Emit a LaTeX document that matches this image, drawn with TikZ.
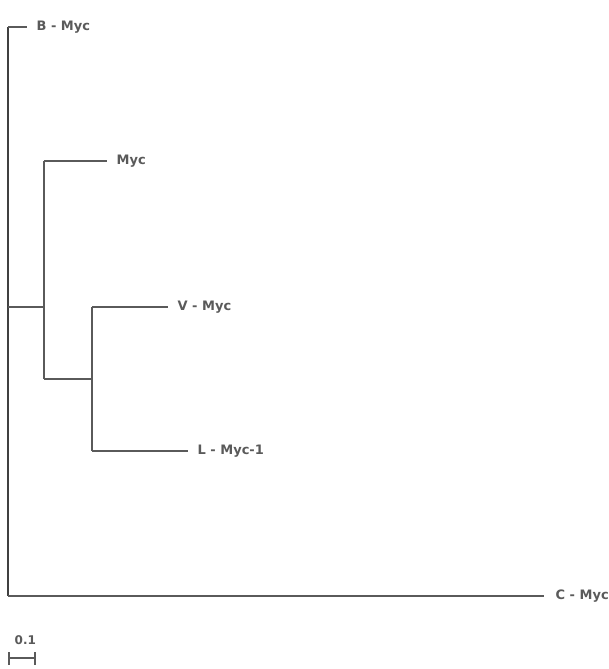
\documentclass[tikz,border=0pt]{standalone}
\usepackage{fontspec}
\setmainfont{DejaVu Sans}
\usepackage{tikz}
\usetikzlibrary{positioning}

\definecolor{branchgray}{HTML}{5A5A5A}

\begin{document}
\begin{tikzpicture}[x=1pt,y=-1pt,line width=1.3pt,
  branch/.style={branchgray},
  leaf/.style={anchor=west,inner sep=0pt,text=branchgray,font=\fontsize{13}{15}\selectfont\bfseries}]
\useasboundingbox (0,0) rectangle (609,669);

% inner nodes
\coordinate (root) at (8,307);
\coordinate (n1) at (44,379);
\coordinate (n2) at (92,379);
\coordinate (n1top) at (44,161);
\coordinate (n2top) at (92,307);
\coordinate (n2bot) at (92,451);
\coordinate (rtop) at (8,27);
\coordinate (rbot) at (8,596);

% tips
\coordinate (tb) at (27,27);
\coordinate (tm) at (107,161);
\coordinate (tv) at (168,307);
\coordinate (tl) at (188,451);
\coordinate (tc) at (544,596);

\draw[branch,line width=1.5pt,color=black!75] (rtop) -- (rbot);
\draw[branch] (rtop) -- (tb);
\draw[branch] (rbot) -- (tc);
\draw[branch] (root) -- (root -| n1);
\draw[branch] (n1top) -- (n1);
\draw[branch] (n1top) -- (tm);
\draw[branch] (n1) -- (n2);
\draw[branch] (n2top) -- (n2bot);
\draw[branch] (n2top) -- (tv);
\draw[branch] (n2bot) -- (tl);

\node[leaf,right=9pt of tb] (lb) {B - Myc};
\node[leaf,right=9pt of tm] (lm) {Myc};
\node[leaf,right=9pt of tv] (lv) {V - Myc};
\node[leaf,right=9pt of tl] (ll) {L - Myc-1};
\node[leaf,right=11pt of tc] (lc) {C - Myc};

% scale bar
\coordinate (s0) at (9,658);
\coordinate (s1) at (35,658);
\draw[branch] (s0) -- (s1);
\draw[branch] ([yshift=-6.5pt]s0) -- ([yshift=6.5pt]s0);
\draw[branch] ([yshift=-6.5pt]s1) -- ([yshift=6.5pt]s1);
\node[leaf,font=\fontsize{12}{14}\selectfont\bfseries,anchor=base west] (sl) at (14,644) {0.1};
\end{tikzpicture}
\end{document}
